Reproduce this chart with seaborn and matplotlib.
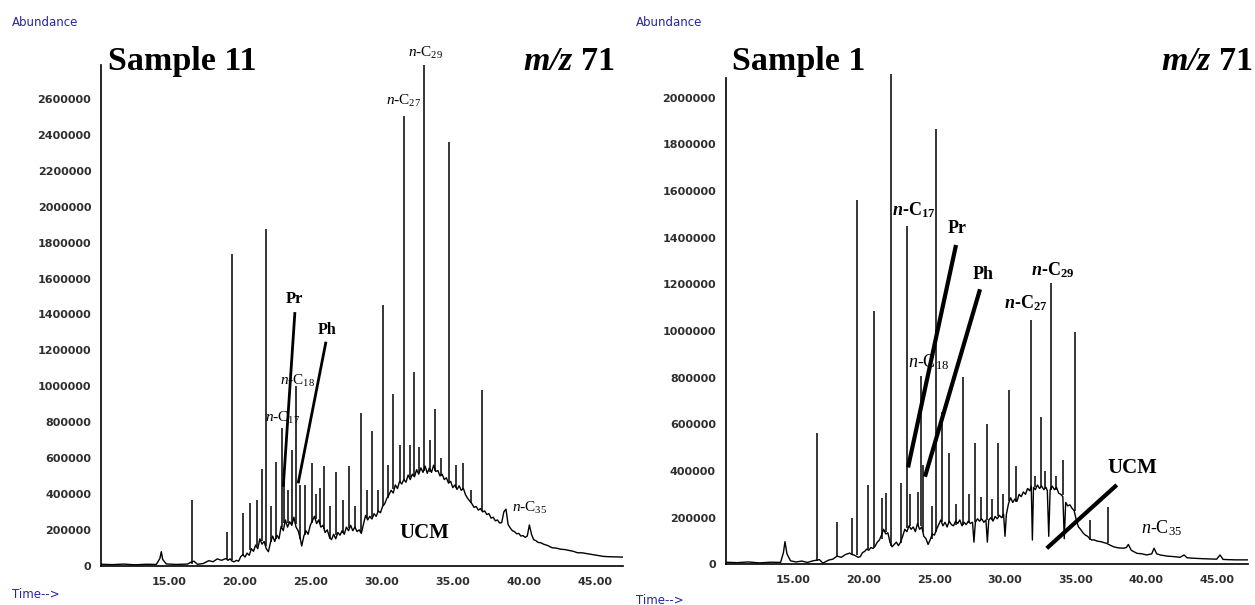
import matplotlib
matplotlib.use("Agg")
import matplotlib.pyplot as plt
import seaborn as sns
from matplotlib.ticker import MultipleLocator, FuncFormatter

# ---------------- Sample 11 (left) ----------------
left_base_t = [10.2, 11.0, 11.8, 12.6, 13.4, 14.1, 14.35, 14.45, 14.55, 14.8, 15.5, 16.3, 16.55, 16.75,
               17.0, 17.4, 17.8, 18.1, 18.4, 18.7,
               19.00, 19.15, 19.30, 19.45, 19.60, 19.75, 19.90, 20.05, 20.20, 20.35, 20.50, 20.65, 20.80,
               20.95, 21.10, 21.25, 21.40, 21.55, 21.70, 21.85, 22.00, 22.15, 22.30, 22.45, 22.60, 22.75,
               22.90, 23.05, 23.20, 23.35, 23.50, 23.65, 23.80, 23.95, 24.10, 24.25, 24.35, 24.50, 24.65,
               24.80, 24.95, 25.10, 25.25, 25.40, 25.55, 25.70, 25.85, 26.00, 26.15, 26.30, 26.45, 26.60,
               26.75, 26.90, 27.05, 27.20, 27.35, 27.50, 27.65, 27.80, 27.95, 28.10, 28.25, 28.40, 28.55,
               28.70, 28.85, 29.00, 29.15, 29.30, 29.45, 29.60, 29.75, 29.90, 30.05, 30.20, 30.35, 30.50,
               30.65, 30.80, 30.95, 31.10, 31.25, 31.40, 31.55, 31.70, 31.85, 32.00, 32.15, 32.30, 32.45,
               32.60, 32.75, 32.90, 33.05, 33.20, 33.35, 33.50, 33.65, 33.80, 33.95, 34.10, 34.25, 34.40,
               34.55, 34.70, 34.85, 35.00, 35.15, 35.30, 35.45, 35.60, 35.75, 35.90, 36.05, 36.20, 36.35,
               36.50, 36.65, 36.80, 36.95, 37.10, 37.25, 37.40, 37.55, 37.70, 37.85, 38.00, 38.15, 38.30,
               38.45, 38.60, 38.75, 38.90, 39.05, 39.20, 39.35, 39.50, 39.65, 39.80, 39.95, 40.10, 40.25,
               40.40, 40.55, 40.70, 40.85, 41.00, 41.20, 41.40, 41.70, 42.00, 42.30, 42.60, 42.90, 43.20,
               43.50, 43.80, 44.10, 44.40, 44.70, 45.00, 45.30, 45.60, 46.00, 46.50, 47.00]
left_base_v = [8000, 6000, 9000, 5000, 8000, 7000, 40000, 78000, 35000, 10000, 7000, 9000, 20000, 25000,
               8000, 12000, 28000, 22000, 38000, 30000,
               40000, 30000, 38000, 25000, 22000, 30000, 25000, 50000, 62000, 48000, 70000, 58000, 95000,
               80000, 115000, 95000, 150000, 120000, 135000, 95000, 78000, 130000, 165000, 135000, 170000,
               150000, 220000, 195000, 255000, 215000, 245000, 225000, 270000, 215000, 195000, 150000,
               110000, 165000, 195000, 175000, 225000, 250000, 275000, 235000, 255000, 215000, 225000,
               185000, 200000, 160000, 145000, 175000, 150000, 185000, 170000, 195000, 175000, 215000,
               195000, 225000, 195000, 215000, 190000, 200000, 180000, 230000, 280000, 255000, 275000,
               260000, 290000, 275000, 305000, 295000, 330000, 345000, 375000, 395000, 420000, 405000,
               450000, 430000, 470000, 455000, 480000, 465000, 505000, 480000, 510000, 495000, 535000,
               510000, 545000, 520000, 555000, 515000, 545000, 520000, 560000, 525000, 530000, 500000,
               510000, 480000, 490000, 460000, 470000, 435000, 450000, 425000, 445000, 420000, 430000,
               395000, 375000, 360000, 345000, 325000, 330000, 310000, 318000, 300000, 305000, 285000,
               290000, 265000, 270000, 250000, 255000, 238000, 240000, 300000, 315000, 230000, 210000,
               195000, 190000, 178000, 180000, 165000, 168000, 158000, 165000, 227000, 175000, 145000,
               140000, 130000, 128000, 120000, 112000, 100000, 98000, 92000, 90000, 85000, 80000, 72000,
               72000, 68000, 64000, 60000, 56000, 52000, 50000, 49000, 48000]
left_peak_t = [16.64, 19.08, 19.46, 20.24, 20.70, 21.22, 21.53, 21.80, 22.20, 22.54, 22.94, 23.10, 23.35,
               23.63, 23.97, 24.22, 24.58, 25.09, 25.35, 25.63, 25.90, 26.35, 26.80, 27.27, 27.69, 28.10,
               28.50, 28.95, 29.30, 29.75, 30.10, 30.45, 30.80, 31.26, 31.55, 31.97, 32.25, 32.60, 32.98,
               33.40, 33.78, 34.20, 34.74, 35.20, 35.73, 36.30, 37.04]
left_peak_top = [366000, 190000, 1736000, 293000, 350000, 366000, 540000, 1875000, 330000, 578000, 769000,
                 496000, 420000, 645000, 1001000, 450000, 450000, 572000, 400000, 433000, 557000, 330000,
                 524000, 366000, 555000, 330000, 853000, 420000, 750000, 420000, 1452000, 560000, 957000,
                 672000, 2505000, 672000, 1081000, 660000, 2790000, 700000, 871000, 600000, 2362000,
                 560000, 570000, 420000, 979000]
left_peak_base = [10000, 35000, 30000, 60000, 90000, 110000, 140000, 110000, 130000, 150000, 217000,
                  240000, 240000, 235000, 230000, 150000, 170000, 240000, 260000, 230000, 205000, 150000,
                  170000, 180000, 210000, 210000, 190000, 265000, 270000, 300000, 330000, 380000, 430000,
                  465000, 470000, 495000, 500000, 520000, 530000, 520000, 530000, 500000, 460000, 435000,
                  425000, 350000, 305000]
left_pr_line_t = [23.87, 23.05]
left_pr_line_v = [1413000, 440000]
left_ph_line_t = [26.06, 24.10]
left_ph_line_v = [1248000, 459000]

# ---------------- Sample 1 (right) ----------------
right_base_t = [10.2, 11.0, 11.8, 12.6, 13.4, 14.1, 14.3, 14.41, 14.55, 14.8, 15.2, 15.6, 16.0, 16.4,
                16.85, 17.1, 17.5, 17.8, 18.1, 18.4, 18.7,
                19.00, 19.15, 19.30, 19.45, 19.60, 19.75, 19.90, 20.05, 20.20, 20.35, 20.50, 20.65, 20.80,
                20.95, 21.10, 21.25, 21.40, 21.55, 21.70, 21.85, 22.00, 22.15, 22.30, 22.45, 22.60, 22.75,
                22.90, 23.05, 23.20, 23.35, 23.50, 23.65, 23.80, 23.95, 24.10, 24.25, 24.40, 24.55, 24.70,
                24.85, 25.00, 25.15, 25.30, 25.45, 25.60, 25.75, 25.90, 26.05, 26.20, 26.35, 26.50, 26.65,
                26.80, 26.95, 27.10, 27.25, 27.40, 27.55, 27.70, 27.80, 27.90, 28.05, 28.20, 28.35, 28.50,
                28.65, 28.75, 28.85, 29.00, 29.15, 29.30, 29.45, 29.60, 29.75, 29.90, 30.00, 30.10, 30.25,
                30.40, 30.55, 30.70, 30.85, 31.00, 31.15, 31.30, 31.45, 31.60, 31.75, 31.86, 31.94, 32.02,
                32.15, 32.30, 32.45, 32.60, 32.75, 32.90, 33.00, 33.10, 33.20, 33.35, 33.50, 33.65, 33.80,
                33.95, 34.10, 34.20, 34.30, 34.45, 34.60, 34.75, 34.90, 35.05, 35.20, 35.35, 35.55, 35.70,
                35.85, 36.00, 36.15, 36.30, 36.50, 36.65, 36.80, 37.00, 37.20, 37.45, 37.70, 37.90, 38.10,
                38.40, 38.60, 38.74, 38.95, 39.35, 39.70, 40.05, 40.40, 40.56, 40.75, 41.00, 41.50, 41.95,
                42.40, 42.69, 42.90, 43.35, 44.00, 44.55, 45.00, 45.24, 45.45, 45.75, 46.40, 47.20]
right_base_v = [9000, 7000, 10000, 6000, 9000, 8000, 50000, 97000, 45000, 15000, 10000, 14000, 8000,
                15000, 20000, 5000, 18000, 22000, 35000, 30000, 42000,
                48000, 42000, 40000, 35000, 30000, 33000, 50000, 55000, 65000, 60000, 72000, 68000, 78000,
                95000, 104000, 125000, 150000, 130000, 135000, 95000, 75000, 85000, 95000, 80000, 95000,
                120000, 150000, 140000, 165000, 150000, 160000, 140000, 175000, 150000, 160000, 120000,
                110000, 85000, 105000, 130000, 125000, 150000, 170000, 190000, 165000, 180000, 160000,
                185000, 170000, 165000, 185000, 175000, 190000, 165000, 180000, 170000, 185000, 175000,
                180000, 95000, 180000, 195000, 185000, 195000, 180000, 190000, 95000, 190000, 200000,
                185000, 205000, 195000, 210000, 200000, 215000, 120000, 215000, 260000, 285000, 265000,
                280000, 270000, 300000, 290000, 310000, 300000, 325000, 315000, 335000, 104000, 330000,
                320000, 340000, 325000, 335000, 320000, 330000, 315000, 120000, 320000, 335000, 320000,
                330000, 305000, 300000, 290000, 110000, 265000, 250000, 255000, 240000, 230000, 190000,
                161000, 150000, 133000, 125000, 120000, 110000, 104000, 105000, 100000, 98000, 97000,
                93000, 90000, 82000, 75000, 72000, 70000, 69000, 72000, 85000, 60000, 47000, 45000, 40000,
                45000, 69000, 45000, 40000, 35000, 33000, 30000, 40000, 28000, 26000, 24000, 23000, 22000,
                40000, 21000, 20000, 19000, 19000]
right_peak_t = [16.70, 18.12, 19.14, 19.51, 20.29, 20.72, 21.26, 21.55, 21.95, 22.61, 23.04, 23.30,
                23.86, 24.05, 24.21, 24.80, 25.09, 25.52, 26.06, 26.50, 27.00, 27.45, 27.88, 28.30,
                28.70, 29.10, 29.53, 29.85, 30.29, 30.80, 31.82, 32.15, 32.53, 32.80, 33.26, 33.60,
                34.09, 34.96, 36.03, 37.28]
right_peak_top = [561000, 183000, 197000, 1562000, 340000, 1086000, 283000, 307000, 2100000, 347000,
                  1450000, 300000, 311000, 807000, 425000, 250000, 1864000, 654000, 476000, 260000,
                  801000, 300000, 521000, 290000, 601000, 280000, 519000, 300000, 747000, 420000,
                  1047000, 380000, 630000, 400000, 1204000, 380000, 447000, 997000, 190000, 247000]
right_peak_base = [15000, 30000, 45000, 40000, 65000, 75000, 110000, 140000, 80000, 90000, 155000,
                   165000, 165000, 165000, 140000, 110000, 140000, 180000, 180000, 170000, 170000,
                   178000, 180000, 190000, 188000, 190000, 205000, 200000, 270000, 265000, 325000,
                   330000, 330000, 325000, 318000, 320000, 295000, 230000, 104000, 90000]
right_pr_line_t = [26.53, 23.13]
right_pr_line_v = [1368600, 415000]
right_ph_line_t = [28.23, 24.33]
right_ph_line_v = [1178700, 375500]
right_ucm_line_t = [37.92, 32.96]
right_ucm_line_v = [340000, 68600]

y_tick_step = 200000
x_major_ticks = [15, 20, 25, 30, 35, 40, 45]

# ---------------- style ----------------
sns.set_style("white")
plt.rcParams.update({
    "font.family": ["DejaVu Sans"],
    "mathtext.fontset": "custom",
    "mathtext.rm": "Liberation Serif",
    "mathtext.it": "Liberation Serif:italic",
    "mathtext.bf": "Liberation Serif:bold",
    "mathtext.bfit": "Liberation Serif:italic:bold",
})
SERIF = "Liberation Serif"
BLUE = "#25259a"
TICKC = "#2e2e2e"

W, H = 1255, 605
fig = plt.figure(figsize=(W / 100, H / 100), dpi=100)
axL = fig.add_axes([101 / W, 1 - 565.7 / H, 522 / W, (565.7 - 65) / H])
axR = fig.add_axes([725.7 / W, 1 - 564.3 / H, 522.6 / W, (564.3 - 78.3) / H])


def style_axes(ax, xlim, ymax, ytop_tick):
    ax.set_xlim(*xlim)
    ax.set_ylim(0, ymax)
    for s in ("top", "right"):
        ax.spines[s].set_visible(False)
    for s in ("left", "bottom"):
        ax.spines[s].set_color("black")
        ax.spines[s].set_linewidth(1.2)
    ax.set_yticks(list(range(0, ytop_tick + 1, y_tick_step)))
    ax.yaxis.set_minor_locator(MultipleLocator(y_tick_step / 2))
    ax.yaxis.set_major_formatter(FuncFormatter(lambda v, p: f"{int(round(v))}"))
    ax.set_xticks(x_major_ticks)
    ax.xaxis.set_minor_locator(MultipleLocator(1))
    ax.xaxis.set_major_formatter(FuncFormatter(lambda v, p: f"{v:.2f}"))
    ax.tick_params(axis="both", which="major", direction="out", length=3, width=1,
                   color="black", labelsize=8, labelcolor=TICKC, pad=4)
    ax.tick_params(axis="both", which="minor", direction="out", length=2.5, width=0.8, color="black")
    ax.tick_params(axis="x", which="major", pad=5)
    for lab in ax.get_xticklabels() + ax.get_yticklabels():
        lab.set_fontweight("bold")
    ax.set_xlabel("")
    ax.set_ylabel("")
    ax.grid(False)


def draw_trace(ax, bt, bv, pt, ptop, pbase):
    sns.lineplot(x=bt, y=bv, ax=ax, color="black", linewidth=1.0, estimator=None, sort=False)
    ax.vlines(pt, pbase, ptop, color="black", linewidth=1.1, clip_on=False)


# left panel
draw_trace(axL, left_base_t, left_base_v, left_peak_t, left_peak_top, left_peak_base)
style_axes(axL, (10.2, 47.0), 2790000, 2600000)
axL.plot(left_pr_line_t, left_pr_line_v, color="black", lw=2.0, solid_capstyle="butt")
axL.plot(left_ph_line_t, left_ph_line_v, color="black", lw=2.0, solid_capstyle="butt")

lab_kw = dict(ha="center", va="center", family=SERIF, color="black")
axL.text(33.10, 2856000, r"$\mathit{n}$-C$_{29}$", fontsize=11, **lab_kw)
axL.text(31.55, 2589000, r"$\mathit{n}$-C$_{27}$", fontsize=11, **lab_kw)
axL.text(23.87, 1486000, "Pr", fontsize=12, fontweight="bold", **lab_kw)
axL.text(26.13, 1313000, "Ph", fontsize=11.5, fontweight="bold", **lab_kw)
axL.text(24.08, 1029000, r"$\mathit{n}$-C$_{18}$", fontsize=11, **lab_kw)
axL.text(23.03, 823000, r"$\mathit{n}$-C$_{17}$", fontsize=11, **lab_kw)
axL.text(40.42, 322000, r"$\mathit{n}$-C$_{35}$", fontsize=11, **lab_kw)
axL.text(33.03, 182000, "UCM", fontsize=15, fontweight="bold", **lab_kw)

# right panel
draw_trace(axR, right_base_t, right_base_v, right_peak_t, right_peak_top, right_peak_base)
style_axes(axR, (10.21, 47.24), 2083000, 2000000)
for lt, lv in ((right_pr_line_t, right_pr_line_v), (right_ph_line_t, right_ph_line_v),
               (right_ucm_line_t, right_ucm_line_v)):
    axR.plot(lt, lv, color="black", lw=3.0, solid_capstyle="butt")

bold_lab = r"$\mathbfit{n}$-C$_{\mathbf{%s}}$"
axR.text(23.55, 1518000, bold_lab % "17", fontsize=13, fontweight="bold", **lab_kw)
axR.text(26.60, 1441000, "Pr", fontsize=13, fontweight="bold", **lab_kw)
axR.text(28.44, 1240000, "Ph", fontsize=13, fontweight="bold", **lab_kw)
axR.text(33.40, 1261000, bold_lab % "29", fontsize=13, fontweight="bold", **lab_kw)
axR.text(31.49, 1120000, bold_lab % "27", fontsize=13, fontweight="bold", **lab_kw)
axR.text(24.62, 867000, r"$\mathit{n}$-C$_{18}$", fontsize=13, **lab_kw)
axR.text(39.01, 413000, "UCM", fontsize=15, fontweight="bold", **lab_kw)
axR.text(41.07, 156000, r"$\mathit{n}$-C$_{35}$", fontsize=13, **lab_kw)

# titles
tkw = dict(va="baseline", fontsize=24.5, fontweight="bold", family=SERIF, color="black")
fig.text(108 / W, 1 - 70 / H, "Sample 11", ha="left", **tkw)
fig.text(615 / W, 1 - 70 / H, r"$\mathbfit{m/z}$ 71", ha="right", **tkw)
fig.text(732 / W, 1 - 70 / H, "Sample 1", ha="left", **tkw)
fig.text(1253 / W, 1 - 70 / H, r"$\mathbfit{m/z}$ 71", ha="right", **tkw)

# instrument labels
fig.text(12 / W, 1 - 22 / H, "Abundance", color=BLUE, fontsize=8.5, va="center", ha="left")
fig.text(636 / W, 1 - 22 / H, "Abundance", color=BLUE, fontsize=8.5, va="center", ha="left")
fig.text(12 / W, 1 - 595 / H, "Time-->", color=BLUE, fontsize=8.5, va="center", ha="left")
fig.text(636 / W, 1 - 600 / H, "Time-->", color=BLUE, fontsize=8.5, va="center", ha="left")

fig.savefig("out.png", dpi=100)
